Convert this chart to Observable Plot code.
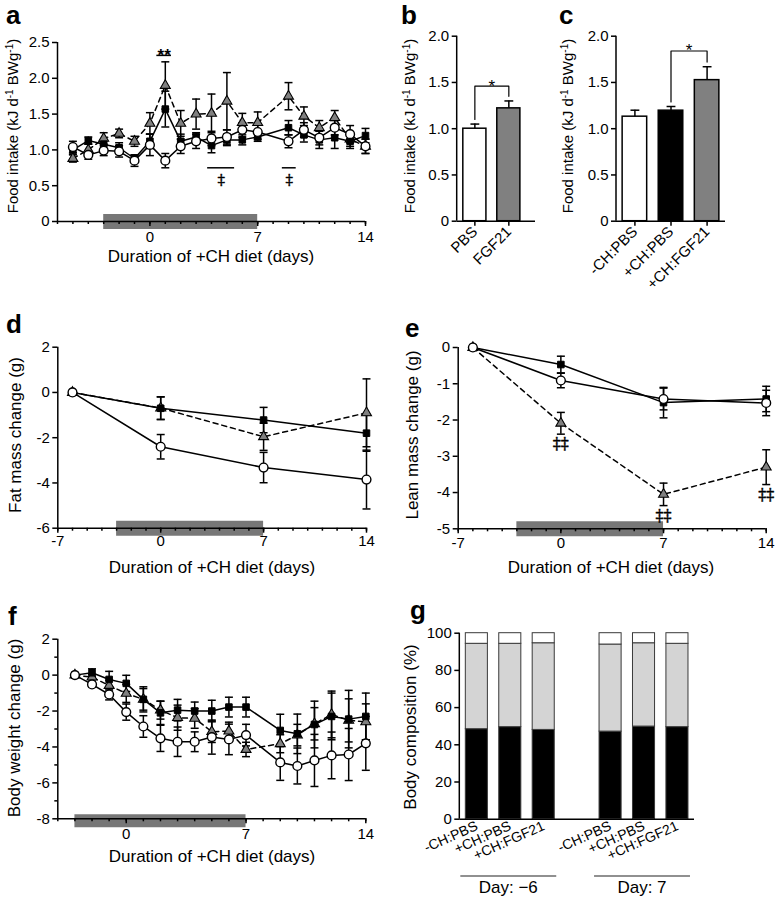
<!DOCTYPE html>
<html><head><meta charset="utf-8">
<script src="https://cdn.jsdelivr.net/npm/d3@7"></script>
<script src="https://cdn.jsdelivr.net/npm/@observablehq/plot@0.6"></script>
<style>
body{margin:0;background:#fff;}
#fig{position:relative;width:776px;height:897px;overflow:hidden;font-family:"Liberation Sans",Arial,Helvetica,sans-serif;}
#fig svg{position:absolute;overflow:visible;background:transparent;}
</style></head><body><div id="fig"></div><script>
// ---------------- DATA ----------------
const groups = ["-CH:PBS", "+CH:PBS", "+CH:FGF21"];
const dietPeriod = [{start: -3, end: 7}];

// panel a: food intake (kJ/d/BWg)
const aDays = [-5,-4,-3,-2,-1,0,1,2,3,4,5,6,7,9,10,11,12,13,14];
const aCircle    = [1.04,0.93,0.99,0.98,0.85,1.07,0.85,1.05,1.12,1.16,1.18,1.28,1.25,1.12,1.28,1.17,1.31,1.22,1.05];
const aCircleErr = [0.08,0.06,0.07,0.08,0.08,0.15,0.10,0.10,0.10,0.10,0.10,0.10,0.10,0.09,0.10,0.10,0.10,0.12,0.10];
const aSquare    = [1.00,1.13,1.08,1.03,0.88,1.12,1.57,1.12,1.18,1.06,1.14,1.14,1.18,1.31,1.21,1.14,1.17,1.12,1.20];
const aSquareErr = [0.06,0.05,0.06,0.07,0.05,0.10,0.25,0.10,0.06,0.10,0.08,0.07,0.06,0.10,0.10,0.12,0.15,0.10,0.10];
const aTri       = [0.88,1.00,1.16,1.23,1.12,1.37,1.90,1.37,1.50,1.51,1.68,1.38,1.38,1.75,1.47,1.31,1.45,1.15,1.05];
const aTriErr    = [0.05,0.08,0.08,0.06,0.07,0.15,0.33,0.18,0.21,0.27,0.40,0.13,0.15,0.19,0.13,0.10,0.10,0.10,0.10];
const aStarSig   = [{x1: 0.45, x2: 1.4, y: 2.32, label: "**"}];
const aDaggerSig = [{x1: 3.75, x2: 5.5, y: 0.75, label: "‡"}, {x1: 8.6, x2: 9.5, y: 0.75, label: "‡"}];

// panel b
const bGroups = ["PBS", "FGF21"];
const bMean = [1.00, 1.22];
const bErr  = [0.05, 0.08];
const bSig  = {from: "PBS", to: "FGF21", top: 1.46, label: "*"};

// panel c
const cMean = [1.13, 1.195, 1.525];
const cErr  = [0.07, 0.045, 0.145];
const cSig  = {from: "+CH:PBS", to: "+CH:FGF21", top: 1.84, label: "*"};

// panel d: fat mass change (g)
const dDays = [-6, 0, 7, 14];
const dCircle = [0, -2.40, -3.32, -3.85], dCircleErr = [0, 0.54, 0.67, 1.30];
const dSquare = [0, -0.70, -1.22, -1.80], dSquareErr = [0, 0.50, 0.56, 0.80];
const dTri    = [0, -0.69, -1.96, -0.90], dTriErr    = [0, 0.50, 0.60, 1.50];

// panel e: lean mass change (g)
const eDays = [-6, 0, 7, 14];
const eCircle = [0, -0.91, -1.42, -1.53], eCircleErr = [0, 0.20, 0.30, 0.35];
const eSquare = [0, -0.47, -1.52, -1.42], eSquareErr = [0, 0.23, 0.42, 0.35];
const eTri    = [0, -2.09, -4.05, -3.30], eTriErr    = [0, 0.30, 0.31, 0.48];
const eDaggerDays = [0, 7, 14];

// panel f: body weight change (g)
const fDays = [-3,-2,-1,0,1,2,3,4,5,6,7,9,10,11,12,13,14];
const fCircle    = [0,-0.52,-1.08,-2.06,-2.86,-3.52,-3.71,-3.71,-3.45,-3.58,-3.34,-4.86,-5.06,-4.75,-4.47,-4.42,-3.80];
const fCircleErr = [0,0.15,0.30,0.45,0.60,0.73,0.82,0.55,0.95,0.85,0.60,1.00,1.00,1.45,1.30,1.45,1.50];
const fSquare    = [0,0.13,-0.24,-0.46,-1.35,-2.10,-1.95,-2.00,-2.00,-1.78,-1.78,-3.08,-3.27,-2.75,-2.30,-2.45,-2.30];
const fSquareErr = [0,0.22,0.45,0.45,0.70,0.65,0.60,0.50,0.60,0.55,0.55,0.90,1.10,1.30,1.30,1.60,1.30];
const fTri       = [0,-0.11,-0.58,-1.02,-1.35,-1.95,-2.37,-2.41,-3.15,-3.12,-4.14,-3.82,-3.34,-2.71,-2.19,-2.52,-2.60];
const fTriErr    = [0,0.15,0.30,0.50,0.60,0.50,0.70,0.55,0.60,0.50,0.40,0.50,0.60,0.90,1.30,1.20,1.00];

// panel g: body composition (%)
const gDays  = ["−6", "7"];
const gBlack = [48.4, 49.5, 48.0, 47.1, 49.8, 49.5];
const gGrey  = [45.9, 44.8, 46.6, 46.8, 44.8, 44.8];
const gWhite = [5.7, 5.7, 5.4, 6.1, 5.4, 5.7];

// ---------------- STYLE ----------------
const FONT = '"Liberation Sans", Arial, Helvetica, sans-serif';
const SERIF = '"DejaVu Serif", serif';
const baseStyle = {fontFamily: FONT, fontSize: "15px", color: "black", background: "transparent", overflow: "visible"};
const STY = {
  "-CH:PBS":   {symbol: "circle",   r: 4.4, fill: "white",   sw: 1.4, dash: null},
  "+CH:PBS":   {symbol: "square",   r: 3.7, fill: "black",   sw: 1.0, dash: null},
  "+CH:FGF21": {symbol: "triangle", r: 3.7, fill: "#808080", sw: 1.1, dash: "5,4"}
};
const BARFILL = {"PBS": "white", "FGF21": "#808080", "-CH:PBS": "white", "+CH:PBS": "black", "+CH:FGF21": "#808080"};
const COMPFILL = {black: "black", grey: "#d4d4d4", white: "white"};
const capSymbol = {draw(ctx, size) { const w = Math.sqrt(size); ctx.moveTo(-w / 2, 0); ctx.lineTo(w / 2, 0); }};
const fig = document.getElementById("fig");

function place(el, left, top) {
  el.style.position = "absolute"; el.style.left = left + "px"; el.style.top = top + "px";
  el.style.background = "transparent"; el.style.overflow = "visible";
  fig.appendChild(el); return el;
}
function rows(days, mean, err, group) { return days.map((d, i) => ({day: d, mean: mean[i], err: err[i], group})); }
function errMarks(data, capR) {
  const e = data.filter(d => d.err > 0);
  return [
    Plot.ruleX(e, {x: "day", y1: d => d.mean - d.err, y2: d => d.mean + d.err, stroke: "black", strokeWidth: 1.5}),
    Plot.dot(e, {x: "day", y: d => d.mean + d.err, symbol: capSymbol, r: capR, stroke: "black", strokeWidth: 1.5, fill: "none"}),
    Plot.dot(e, {x: "day", y: d => d.mean - d.err, symbol: capSymbol, r: capR, stroke: "black", strokeWidth: 1.5, fill: "none"})
  ];
}
function seriesMarks(list, capR) {
  const m = [];
  for (const s of list) { const st = STY[s[0].group];
    m.push(Plot.line(s, {x: "day", y: "mean", stroke: "black", strokeWidth: 1.5, strokeDasharray: st.dash || undefined})); }
  for (const s of list) m.push(...errMarks(s, capR));
  for (const s of list) { const st = STY[s[0].group];
    m.push(Plot.dot(s, {x: "day", y: "mean", symbol: st.symbol, r: st.r, fill: st.fill, stroke: "black", strokeWidth: st.sw})); }
  return m;
}
const intRange = (a, b) => d3.range(a, b + 1);
const fmt1 = d => d === 0 ? "0" : d3.format(".1f")(d);
const fmtInt = d => String(d);

function linePanel(o) {
  const marks = [
    Plot.ruleY(dietPeriod, {x1: "start", x2: "end", y: () => o.yDom[0], stroke: "#777777", strokeWidth: o.dietW, dy: o.dietDy}),
    Plot.ruleX([o.xDom[0]], {stroke: "black", strokeWidth: 1.5}),
    Plot.ruleY([o.yDom[0]], {stroke: "black", strokeWidth: 1.5}),
    Plot.axisX({ticks: o.xMinor, tickSize: 3, tickFormat: () => "", strokeWidth: 1.5, label: null}),
    Plot.axisX({ticks: o.xMajor, tickSize: 5, tickPadding: o.xPad, tickFormat: fmtInt, strokeWidth: 1.5, label: null}),
    Plot.axisY({ticks: o.yMajor, tickSize: 5, tickPadding: 3, tickFormat: o.yFmt, strokeWidth: 1.5, label: null})
  ];
  if (o.yMinor) marks.push(Plot.axisY({ticks: o.yMinor, tickSize: 3, tickFormat: () => "", strokeWidth: 1.5, label: null}));
  marks.push(...seriesMarks(o.series, 4.5));
  marks.push(...(o.extra || []));
  return Plot.plot({width: o.w, height: o.h, marginLeft: o.ml, marginRight: o.mr, marginTop: o.mt, marginBottom: o.mb,
    x: {domain: o.xDom, label: null}, y: {domain: o.yDom, label: null}, style: baseStyle, marks});
}
function yAxisLine(svg, o) {
  d3.select(svg).append("line").attr("x1", o.ml).attr("x2", o.ml).attr("y1", o.mt).attr("y2", o.h - o.mb)
    .attr("stroke", "black").attr("stroke-width", 1.5);
}

// ---------------- PANEL a ----------------
{
  const o = {w: 380, h: 260, ml: 57, mr: 15, mt: 42, mb: 39, xDom: [-6, 14], yDom: [0, 2.5],
    xMinor: intRange(-6, 14), xMajor: [0, 7, 14], xPad: 5, yMajor: [0, 0.5, 1, 1.5, 2, 2.5], yFmt: fmt1,
    dietW: 15, dietDy: 0,
    series: [rows(aDays, aTri, aTriErr, "+CH:FGF21"), rows(aDays, aSquare, aSquareErr, "+CH:PBS"), rows(aDays, aCircle, aCircleErr, "-CH:PBS")],
    extra: [
      Plot.ruleY(aStarSig, {y: "y", x1: "x1", x2: "x2", strokeWidth: 1.5}),
      Plot.text(aStarSig, {x: d => (d.x1 + d.x2) / 2, y: "y", text: "label", lineAnchor: "middle", fontSize: 17, fontWeight: "bold"}),
      Plot.ruleY(aDaggerSig, {y: "y", x1: "x1", x2: "x2", strokeWidth: 1.5}),
      Plot.text(aDaggerSig, {x: d => (d.x1 + d.x2) / 2, y: "y", text: "label", lineAnchor: "middle", dy: 12, fontSize: 15,
        fontFamily: SERIF, fill: "black", stroke: "black", strokeWidth: 0.4})
    ]};
  place(linePanel(o), 0, 0);
}

// ---------------- PANELS b, c ----------------
function barPanel(o) {
  const data = o.groups.map((g, i) => ({group: g, mean: o.mean[i], err: o.err[i]}));
  const byG = Object.fromEntries(data.map(d => [d.group, d]));
  const s = o.sig;
  const bracket = [
    {x: s.from, y: byG[s.from].mean + byG[s.from].err + 0.05}, {x: s.from, y: s.top},
    {x: s.to, y: s.top}, {x: s.to, y: byG[s.to].mean + byG[s.to].err + 0.05}];
  const svg = Plot.plot({width: o.w, height: o.h, marginLeft: o.ml, marginRight: o.mr, marginTop: o.mt, marginBottom: o.mb,
    x: {type: "band", domain: o.groups, range: o.xRange, paddingInner: 0.32, paddingOuter: o.po, round: false, label: null},
    y: {domain: [0, 2], label: null}, style: baseStyle,
    marks: [
      Plot.barY(data, {x: "group", y: "mean", fill: d => BARFILL[d.group], stroke: "black", strokeWidth: 1.5}),
      Plot.ruleX(data, {x: "group", y1: "mean", y2: d => d.mean + d.err, stroke: "black", strokeWidth: 1.5}),
      Plot.dot(data, {x: "group", y: d => d.mean + d.err, symbol: capSymbol, r: 5, stroke: "black", strokeWidth: 1.5, fill: "none"}),
      Plot.line(bracket, {x: "x", y: "y", stroke: "black", strokeWidth: 1.2}),
      Plot.text([s], {x: "to", y: "top", text: "label", dx: -o.half, lineAnchor: "middle", fontSize: 17}),
      Plot.ruleY([0], {stroke: "black", strokeWidth: 1.5}),
      Plot.axisY({ticks: [0, 0.5, 1, 1.5, 2], tickSize: 5, tickPadding: 3, tickFormat: fmt1, strokeWidth: 1.5, label: null}),
      Plot.axisX({tickSize: 5, tickPadding: 3, tickRotate: -45, strokeWidth: 1.5, label: null, fontSize: 15})
    ]});
  yAxisLine(svg, o);
  return svg;
}
place(barPanel({w: 160, h: 300, ml: 76.7, mr: 5, mt: 35.7, mb: 79.3, xRange: [76.7, 146], po: 0.18, half: 17,
  groups: bGroups, mean: bMean, err: bErr, sig: bSig}), 380, 0);
place(barPanel({w: 236, h: 300, ml: 76, mr: 51, mt: 35.7, mb: 79.3, xRange: [76, 185], po: 0.17, half: 18,
  groups: groups, mean: cMean, err: cErr, sig: cSig}), 540, 0);

// ---------------- PANEL d ----------------
place(linePanel({w: 380, h: 290, ml: 57.3, mr: 14, mt: 56.7, mb: 52.3, xDom: [-7, 14], yDom: [-6, 2],
  xMinor: intRange(-7, 14), xMajor: [-7, 0, 7, 14], xPad: 2, yMajor: [2, 0, -2, -4, -6], yFmt: fmtInt,
  dietW: 15, dietDy: 0,
  series: [rows(dDays, dTri, dTriErr, "+CH:FGF21"), rows(dDays, dSquare, dSquareErr, "+CH:PBS"), rows(dDays, dCircle, dCircleErr, "-CH:PBS")]
}), 0, 290);

// ---------------- PANEL e ----------------
{
  const triRows = rows(eDays, eTri, eTriErr, "+CH:FGF21");
  place(linePanel({w: 396, h: 290, ml: 77.7, mr: 10.3, mt: 57, mb: 51.7, xDom: [-7, 14], yDom: [-5, 0],
    xMinor: intRange(-7, 14), xMajor: [-7, 0, 7, 14], xPad: 4, yMajor: [0, -1, -2, -3, -4, -5], yFmt: fmtInt,
    dietW: 15, dietDy: 0,
    series: [triRows, rows(eDays, eSquare, eSquareErr, "+CH:PBS"), rows(eDays, eCircle, eCircleErr, "-CH:PBS")],
    extra: [Plot.text(triRows.filter(d => eDaggerDays.includes(d.day)), {x: "day", y: d => d.mean - d.err, text: () => "‡‡",
      lineAnchor: "middle", dy: 10, fontSize: 16, fontFamily: SERIF, fill: "black", stroke: "black", strokeWidth: 0.4})]
  }), 380, 290);
}

// ---------------- PANEL f ----------------
place(linePanel({w: 380, h: 300, ml: 57.3, mr: 14.7, mt: 48.7, mb: 71.7, xDom: [-4, 14], yDom: [-8, 2],
  xMinor: intRange(-4, 14), xMajor: [0, 7, 14], xPad: 5, yMajor: [2, 0, -2, -4, -6, -8], yMinor: [1, -1, -3, -5, -7], yFmt: fmtInt,
  dietW: 13, dietDy: 2,
  series: [rows(fDays, fTri, fTriErr, "+CH:FGF21"), rows(fDays, fSquare, fSquareErr, "+CH:PBS"), rows(fDays, fCircle, fCircleErr, "-CH:PBS")]
}), 0, 590);

// ---------------- PANEL g ----------------
const gSlots = [];
gDays.forEach((day, k) => { if (k > 0) gSlots.push("gap"); groups.forEach(g => gSlots.push(day + "|" + g)); });
const gReal = gSlots.filter(s => s !== "gap");
const gRows = [];
[["black", gBlack], ["grey", gGrey], ["white", gWhite]].forEach(([comp, vals]) =>
  gReal.forEach((slot, i) => gRows.push({slot, comp, value: vals[i]})));
const go = {w: 396, h: 307, ml: 79.3, mr: 82, mt: 42.7, mb: 78.3};
const gSvg = Plot.plot({width: go.w, height: go.h, marginLeft: go.ml, marginRight: go.mr, marginTop: go.mt, marginBottom: go.mb,
  x: {type: "band", domain: gSlots, paddingInner: 0.34, paddingOuter: 0.18, round: false, label: null},
  y: {domain: [0, 100], label: null}, style: baseStyle,
  marks: [
    Plot.barY(gRows, {x: "slot", y: "value", z: "comp", fill: d => COMPFILL[d.comp], stroke: "#3a3a3a", strokeWidth: 1}),
    Plot.ruleY([0], {stroke: "black", strokeWidth: 1.5}),
    Plot.axisY({ticks: [0, 20, 40, 60, 80, 100], tickSize: 5, tickPadding: 3, strokeWidth: 1.5, label: null}),
    Plot.axisX({ticks: gReal, tickSize: 0, tickPadding: 6, tickRotate: -24, tickFormat: s => s.split("|")[1], label: null, fontSize: 14})
  ]});
yAxisLine(gSvg, go);
{
  const xs = gSvg.scale("x"), bw = xs.bandwidth;
  const sel = d3.select(gSvg);
  gDays.forEach(day => {
    const keys = groups.map(g => day + "|" + g);
    const x1 = xs.apply(keys[0]) - 5, x2 = xs.apply(keys[2]) + bw + 2;
    sel.append("line").attr("x1", x1).attr("x2", x2).attr("y1", 286).attr("y2", 286).attr("stroke", "#222").attr("stroke-width", 1.2);
    sel.append("text").attr("x", (x1 + x2) / 2).attr("y", 303).attr("text-anchor", "middle").attr("font-size", 17)
      .attr("font-family", FONT).attr("fill", "black").text("Day: " + day);
  });
}
place(gSvg, 380, 590);

// ---------------- TEXT OVERLAY ----------------
const ov = d3.create("svg").attr("width", 776).attr("height", 897).style("left", "0px").style("top", "0px")
  .style("pointer-events", "none").attr("font-family", FONT);
[["a", 6, 24], ["b", 401, 24], ["c", 559, 24], ["d", 6, 333], ["e", 405, 337], ["f", 8, 625], ["g", 410, 619]]
  .forEach(([t, x, y]) => ov.append("text").attr("x", x).attr("y", y).attr("font-weight", "bold").attr("font-size", 26).text(t));
function yTitle(cx, cy, parts, size) {
  const t = ov.append("text").attr("transform", `translate(${cx},${cy}) rotate(-90)`).attr("text-anchor", "middle")
    .attr("dy", "0.35em").attr("font-size", size);
  parts.forEach(p => { const ts = t.append("tspan").text(p[0]); if (p[1]) ts.attr("baseline-shift", "super").attr("font-size", 10); });
}
const foodTitle = [["Food intake (kJ d"], ["-1", true], [" BWg"], ["-1", true], [")"]];
yTitle(13, 126, foodTitle, 15);
yTitle(410, 126, foodTitle, 15);
yTitle(568, 126, foodTitle, 15);
yTitle(15.5, 435, [["Fat mass change (g)"]], 17);
yTitle(412.5, 435, [["Lean mass change (g)"]], 17);
yTitle(14.5, 728, [["Body weight change (g)"]], 17);
yTitle(410.5, 727, [["Body composition (%)"]], 17);
[[211, 262], [212, 573], [611, 573], [212, 862]].forEach(([x, y]) =>
  ov.append("text").attr("x", x).attr("y", y).attr("text-anchor", "middle").attr("font-size", 17).text("Duration of +CH diet (days)"));
place(ov.node(), 0, 0);
</script></body></html>
